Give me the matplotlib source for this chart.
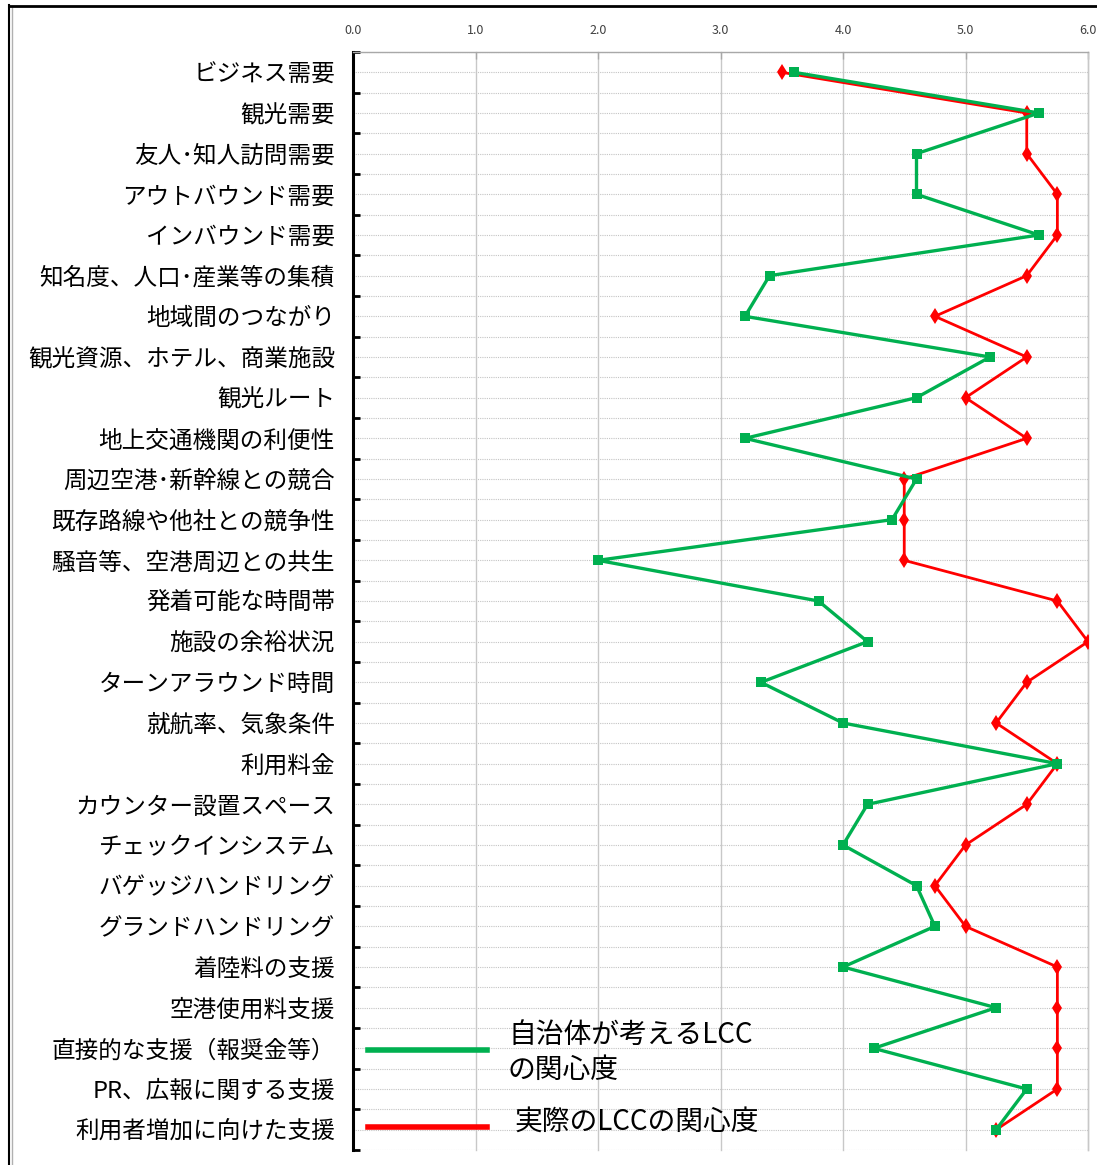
import numpy as np
import matplotlib
matplotlib.use("Agg")
import matplotlib.pyplot as plt
from matplotlib.lines import Line2D

plt.rcParams['font.family'] = ['Noto Sans CJK JP', 'DejaVu Sans']

# 項目名 (上から順)
items = ["ビジネス需要", "観光需要", "友人･知人訪問需要", "アウトバウンド需要",
         "インバウンド需要", "知名度、人口･産業等の集積", "地域間のつながり",
         "観光資源、ホテル、商業施設", "観光ルート", "地上交通機関の利便性",
         "周辺空港･新幹線との競合", "既存路線や他社との競争性", "騒音等、空港周辺との共生",
         "発着可能な時間帯", "施設の余裕状況", "ターンアラウンド時間", "就航率、気象条件",
         "利用料金", "カウンター設置スペース", "チェックインシステム", "バゲッジハンドリング",
         "グランドハンドリング", "着陸料の支援", "空港使用料支援", "直接的な支援（報奨金等）",
         "PR、広報に関する支援", "利用者増加に向けた支援"]

# 自治体が考えるLCCの関心度
jichitai = [3.6, 5.6, 4.6, 4.6, 5.6, 3.4, 3.2, 5.2, 4.6, 3.2, 4.6, 4.4, 2.0, 3.8,
            4.2, 3.33, 4.0, 5.75, 4.2, 4.0, 4.6, 4.75, 4.0, 5.25, 4.25, 5.5, 5.25]
# 実際のLCCの関心度
jissai = [3.5, 5.5, 5.5, 5.75, 5.75, 5.5, 4.75, 5.5, 5.0, 5.5, 4.5, 4.5, 4.5, 5.75,
          6.0, 5.5, 5.25, 5.75, 5.5, 5.0, 4.75, 5.0, 5.75, 5.75, 5.75, 5.75, 5.25]

xticks = [0, 1, 2, 3, 4, 5, 6]

W, H = 1097, 1165
fig = plt.figure(figsize=(W / 100, H / 100), dpi=100)
ax = fig.add_axes([353 / W, 1 - 1150 / H, (1088 - 353) / W, (1150 - 52) / H])

y = np.arange(len(items))
n = len(items)

# グリッド
for b in np.arange(-0.5, n, 0.5):
    ax.axhline(b, color="#c4c4c4", lw=0.8, ls=(0, (1, 1)), zorder=1)
for xv in xticks[1:]:
    ax.axvline(xv, color="#c8c8c8", lw=1.0, zorder=1, clip_on=False)

ax.plot(jissai, y, color="#ff0000", lw=2.0, marker="d", markersize=8.5,
        markeredgewidth=0, zorder=3)
ax.plot(jichitai, y, color="#00b050", lw=2.4, marker="s", markersize=7.5,
        markeredgewidth=0, zorder=4)

ax.set_xlim(0, 6)
ax.set_ylim(n - 0.5, -0.5)

ax.xaxis.tick_top()
ax.set_xticks(xticks)
ax.set_xticklabels([f"{v:.1f}" for v in xticks])
ax.tick_params(axis="x", direction="in", length=5, width=1, color="#a8a8a8",
               labelsize=9, labelcolor="#404040", pad=11)

ax.set_yticks(y)
ax.set_yticklabels(items, fontsize=17)
ax.set_yticks(np.arange(-0.5, n, 1.0), minor=True)
ax.tick_params(axis="y", which="major", length=0, pad=13)
ax.tick_params(axis="y", which="minor", direction="in", length=5, width=2, color="black")

ax.spines["bottom"].set_visible(False)
ax.spines["left"].set_linewidth(2.2)
ax.spines["left"].set_color("black")
ax.spines["top"].set_color("#a8a8a8")
ax.spines["top"].set_linewidth(1.0)
ax.spines["right"].set_color("#c8c8c8")
ax.spines["right"].set_linewidth(1.0)

# 凡例
def fx(px):
    return px / W

def fy(py):
    return 1 - py / H

fig.add_artist(Line2D([fx(368), fx(487)], [fy(1050), fy(1050)], color="#00b050", lw=4))
fig.add_artist(Line2D([fx(368), fx(487)], [fy(1127), fy(1127)], color="#ff0000", lw=4))
fig.text(fx(508), fy(1035), "自治体が考えるLCC", fontsize=20, va="center", ha="left")
fig.text(fx(508), fy(1070), "の関心度", fontsize=20, va="center", ha="left")
fig.text(fx(515), fy(1122), "実際のLCCの関心度", fontsize=20, va="center", ha="left")

# 外枠
fig.add_artist(Line2D([fx(9), fx(9)], [fy(5), 0], color="black", lw=1.5))
fig.add_artist(Line2D([fx(12), fx(12)], [fy(6), 0], color="#b0b0b0", lw=1.0))
fig.add_artist(Line2D([fx(9), 1], [fy(5.5), fy(5.5)], color="black", lw=2.0))

fig.savefig("out.png", dpi=100)
